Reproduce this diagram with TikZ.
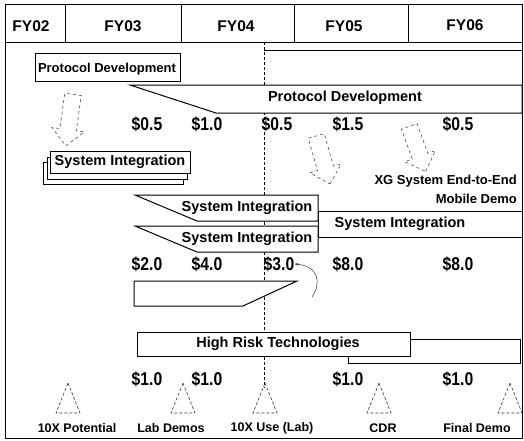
\documentclass[tikz,border=0pt]{standalone}
\usepackage{fontspec}
\setmainfont{Liberation Sans}
\usetikzlibrary{shapes.arrows,arrows.meta}

\newcommand{\amt}[1]{\scalebox{0.85}[1]{\$#1}}

\tikzset{
    bar/.style={draw=black, line width=1pt, fill=white},
    hdr/.style={font=\fontsize{15.5}{17}\selectfont\bfseries, inner sep=0pt},
    barlbl/.style={font=\fontsize{14.5}{16}\selectfont\bfseries, inner sep=0pt},
    cost/.style={font=\fontsize{18.5}{20}\selectfont\bfseries, inner sep=0pt},
    mlbl/.style={font=\fontsize{12.5}{14}\selectfont\bfseries, inner sep=0pt},
    mstone/.style={draw=black!80, densely dashed, line width=0.6pt},
    flow/.style={single arrow,
        draw=black!70,
        dashed,
        line width=0.6pt,
        inner sep=8pt,
        single arrow head extend=8pt
    }
}

\begin{document}
\begin{tikzpicture}[x=1pt,y=-1pt]
    \useasboundingbox (0,0) rectangle (524,440);

    % frame and year header
    \draw[line width=1pt] (5,4) rectangle (522,438);
    \draw[line width=1pt] (5,42) -- (522,42);
    \foreach \xx in {65,181,294,408}
        \draw[line width=1pt] (\xx,4) -- (\xx,42);
    \node[hdr] (fy02) at (31,26){FY02};
    \node[hdr] (fy03) at (123,26){FY03};
    \node[hdr] (fy04) at (236,26){FY04};
    \node[hdr] (fy05) at (344,26){FY05};
    \node[hdr] (fy06) at (465,25){FY06};

    % today line
    \draw[densely dashed, line width=0.7pt] (264,42) -- (264,388);
    \draw[line width=1pt] (264,50) -- (522,50);

    % protocol development
    \draw[bar] (35,53) rectangle (180,81);
    \node[font=\fontsize{13}{15}\selectfont\bfseries, inner sep=0pt] (pdbox) at (107,69){Protocol Development};
    \draw[bar] (130,85) -- (522,85) -- (522,113) -- (216,113) -- cycle;
    \node[barlbl] (pdbar) at (345,98){Protocol Development};

    \node[cost] (c11) at (147,124){\amt{0.5}};
    \node[cost] (c12) at (207,124){\amt{1.0}};
    \node[cost] (c13) at (277,124){\amt{0.5}};
    \node[cost] (c14) at (348,124){\amt{1.5}};
    \node[cost] (c15) at (458,124){\amt{0.5}};

    % system integration
    \draw[bar] (43,162) rectangle (183,184);
    \draw[bar] (47,157) rectangle (187,179);
    \draw[bar] (50,151) rectangle (190,173);
    \node[barlbl] (sistack) at (120,162){System Integration};

    \draw[bar] (318,211) rectangle (522,237);
    \node[barlbl] (siright) at (400,224){System Integration};
    \draw[bar] (135,195) -- (318,195) -- (318,221) -- (197,221) -- cycle;
    \node[barlbl] (sia) at (247,208){System Integration};
    \draw[bar] (135,226) -- (318,226) -- (318,252) -- (197,252) -- cycle;
    \node[barlbl] (sib) at (247,239){System Integration};

    \node[font=\fontsize{13}{15}\selectfont\bfseries, inner sep=0pt, anchor=east] (xg1) at (517,181){XG System End-to-End};
    \node[font=\fontsize{13}{15}\selectfont\bfseries, inner sep=0pt, anchor=east] (xg2) at (517,199){Mobile Demo};

    \node[cost] (c21) at (147,264){\amt{2.0}};
    \node[cost] (c22) at (207,264){\amt{4.0}};
    \node[cost] (c23) at (279,264){\amt{3.0}};
    \node[cost] (c24) at (348,264){\amt{8.0}};
    \node[cost] (c25) at (458,264){\amt{8.0}};

    % unreadable box
    \draw[bar] (134,281) -- (297,281) -- (243,306) -- (134,306) -- cycle;

    % high risk technologies
    \draw[bar] (348,339) rectangle (520,363);
    \draw[bar] (137,332) rectangle (410,356);
    \node[barlbl] (hrt) at (278,344){High Risk Technologies};

    \node[cost] (c31) at (147,379){\amt{1.0}};
    \node[cost] (c32) at (207,379){\amt{1.0}};
    \node[cost] (c33) at (348,379){\amt{1.0}};
    \node[cost] (c34) at (458,379){\amt{1.0}};

    % milestones
    \foreach \xx/\nm in {68/ma,183/mb,265/mc,379/md,510/me}{
        \coordinate (\nm) at (\xx,383);
        \draw[mstone] (\nm) -- ++(12,30) -- ++(-24,0) -- cycle;
    }
    \node[mlbl] (m1) at (77,428){10X Potential};
    \node[mlbl] (m2) at (171,428){Lab Demos};
    \node[mlbl] (m3) at (272,428){10X Use (Lab)};
    \node[mlbl] (m4) at (383,428){CDR};
    \node[mlbl] (m5) at (477,428){Final Demo};

    % hollow arrows
    \node[flow, minimum height=52pt, rotate=-98] (fa) at (70,116){};
    \node[flow, minimum height=50pt, rotate=-74] (fb) at (322,156){};
    \node[flow, minimum height=48pt, rotate=-70] (fc) at (416,145){};
    \draw[black!70, line width=0.6pt, -{Stealth[length=4pt]}] (312,297) .. controls (322,282) and (318,266) .. (c23.east);
\end{tikzpicture}
\end{document}
